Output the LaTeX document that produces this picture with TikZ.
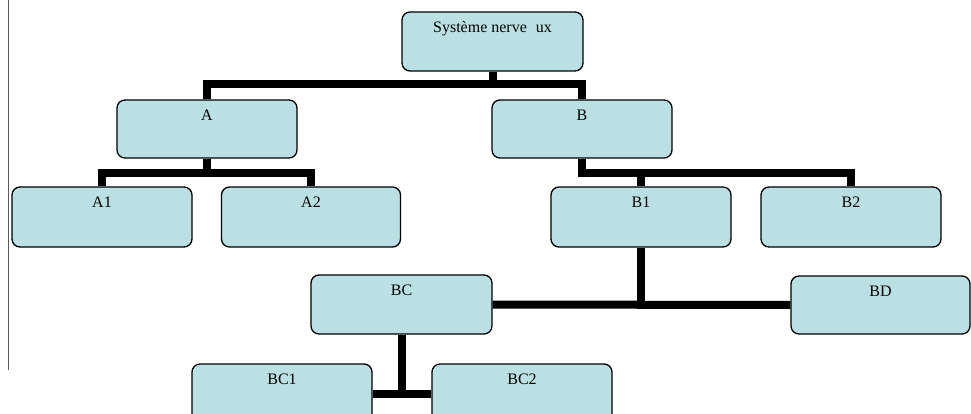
\documentclass[tikz,border=0pt]{standalone}
\usepackage{fontspec}
\setmainfont{Liberation Serif}
\definecolor{boxfill}{RGB}{187,224,227}
\begin{document}
\begin{tikzpicture}[x=1pt,y=-1pt,
  box/.style={draw=black, line width=1.3pt, fill=boxfill, rounded corners=8pt,
    minimum width=180pt, minimum height=59pt, inner sep=0pt, label={[lbl]north:#1}},
  lbl/.style={anchor=base, yshift=-21pt, inner sep=0pt, font=\fontsize{16}{19}\selectfont},
  conn/.style={line width=8pt, draw=black, line join=miter}]
\path[use as bounding box, clip] (0,0) rectangle (971,414);
\draw[gray!70!black, line width=1pt] (8,0) -- (8,370);

\node[box={Système nerve\hspace{9pt}ux}, minimum width=181pt] (top) at (492.5,41.5) {};
\node[box=A, minimum height=58pt] (A) at (207,129) {};
\node[box=B, minimum height=58pt] (B) at (582,129) {};
\node[box=A1, minimum height=60pt] (A1) at (102,217) {};
\node[box=A2, minimum height=60pt, minimum width=179pt] (A2) at (311,217) {};
\node[box=B1, minimum height=60pt] (B1) at (641,217) {};
\node[box=B2, minimum height=60pt] (B2) at (851,217) {};
\node[box=BC, minimum width=181pt] (BC) at (401.5,304.5) {};
\node[box=BD, minimum width=179pt, minimum height=58pt] (BD) at (880.5,305) {};
\node[box=BC1] (BC1) at (282,393.5) {};
\node[box=BC2] (BC2) at (522,393.5) {};

\draw[conn] (top.south) -- ++(0,12) -| (A.north);
\draw[conn] (top.south) -- ++(0,12) -| (B.north);
\draw[conn] (A.south) -- ++(0,14) -| (A1.north);
\draw[conn] (A.south) -- ++(0,14) -| (A2.north);
\draw[conn] (B.south) -- ++(0,14) -| (B1.north);
\draw[conn] (B.south) -- ++(0,14) -| (B2.north);
\draw[conn] (BC.east) -- (BD.west);
\draw[conn] (B1.south) -- ([yshift=-4pt]B1.south |- BC.east);
\draw[conn] (BC1.east) -- (BC2.west);
\draw[conn] (BC.south) -- (BC.south |- BC1.east);
\end{tikzpicture}
\end{document}
